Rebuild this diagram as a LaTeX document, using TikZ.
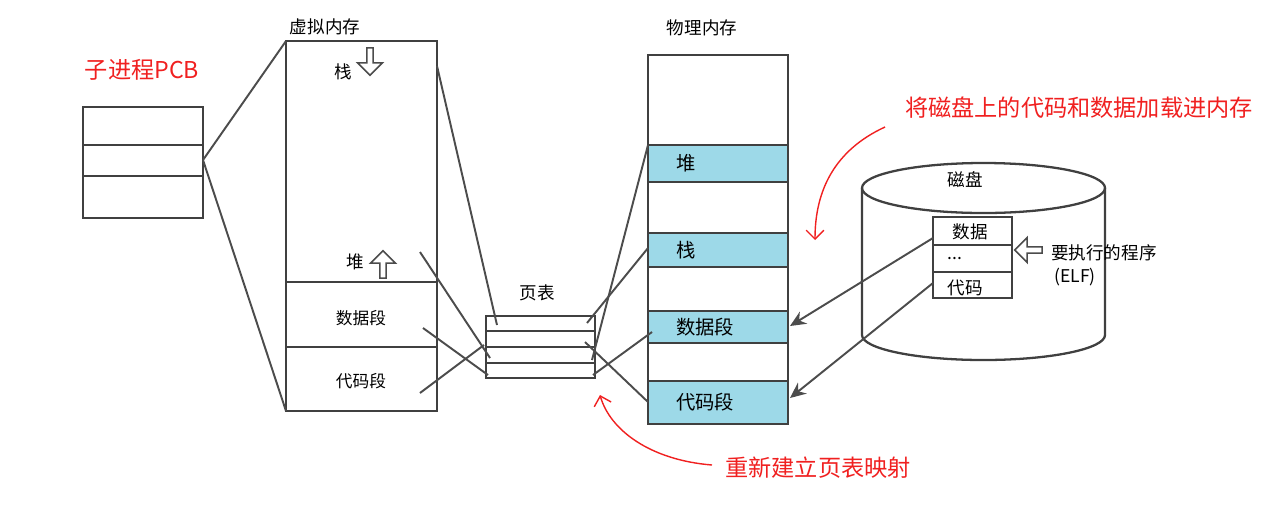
\documentclass[tikz,border=0pt]{standalone}
\usepackage{fontspec}
\newfontfamily\cjk{Noto Sans CJK SC}
\usetikzlibrary{shapes.geometric,shapes.arrows,arrows.meta}
\definecolor{segblue}{HTML}{9DD9E8}
\definecolor{notered}{HTML}{F02020}
\tikzset{
  frame/.style={draw=black!75, line width=1.3pt},
  link/.style={draw=black!70, line width=1.1pt},
  lbl/.style={font=\cjk\fontsize{10}{12}\selectfont},
  seglbl/.style={font=\cjk\fontsize{9.5}{12}\selectfont},
  physlbl/.style={font=\cjk\fontsize{11}{13}\selectfont},
  note/.style={font=\cjk\fontsize{13.2}{16}\selectfont, text=notered},
  hollow/.style={single arrow, draw=black!70, fill=white, line width=0.9pt, minimum height=5.5mm, minimum width=5mm, single arrow head extend=1mm, inner sep=0.5pt}
}
\begin{document}
\begin{tikzpicture}[x=0.02cm, y=-0.02cm]
\useasboundingbox (0,0) rectangle (1287,508);

% PCB
\draw[frame] (83,107) rectangle (203,218);
\draw[frame] (83,145) -- (203,145) (83,176) -- (203,176);
\node[note] (pcb) at (142,70) {子进程PCB};
\coordinate (pcbr) at (203,160);

% virtual memory
\draw[frame] (286,41) rectangle (437,411);
\draw[frame] (286,282) -- (437,282) (286,347) -- (437,347);
\coordinate (vtl) at (286,41);
\coordinate (vbl) at (286,411);
\node[lbl] (vtitle) at (325,27) {虚拟内存};
\node[lbl] (vstack) at (343,72) {栈};
\node[hollow, shape border rotate=270] (vdown) at (370,60) {};
\node[lbl] (vheap) at (355,262) {堆};
\node[hollow, shape border rotate=90] (vup) at (383,266) {};
\node[seglbl] (vdata) at (361,318) {数据段};
\node[seglbl] (vcode) at (361,381) {代码段};
\draw[link] (pcbr) -- (vtl) (pcbr) -- (vbl);

% page table
\draw[frame] (486,316) rectangle (595,378);
\foreach \y in {331,347,363} \draw[frame] (486,\y) -- (595,\y);
\node[lbl] (ptitle) at (537,293) {页表};

% physical memory
\draw[frame] (648,55) rectangle (788,424);
\foreach \ya/\yb/\t/\n in {145/182/堆/pheap, 233/267/栈/pstack, 311/343/数据段/pdata, 381/424/代码段/pcode} {
  \fill[segblue] (648,\ya) rectangle (788,\yb);
  \draw[frame] (648,\ya) -- (788,\ya) (648,\yb) -- (788,\yb);
  \node[physlbl, anchor=west] (\n) at (670,{(\ya+\yb)/2}) {\t};
}
\draw[frame] (648,55) rectangle (788,424);
\node[lbl] (mtitle) at (702,28) {物理内存};

% mappings
\draw[link] (437,66) -- (497,325);
\draw[link] (420,252) -- (490,358);
\draw[link] (423,328) -- (488,375);
\draw[link] (420,393) -- (484,345);
\draw[link] (648,248) -- (587,323);
\draw[link] (648,145) -- (592,360);
\draw[link] (652,332) -- (593,375);
\draw[link] (648,402) -- (585,342);

% disk
\draw[frame] (862,188) -- (862,335) arc[start angle=180, end angle=360, x radius=121.5, y radius=-25] -- (1105,188);
\draw[frame] (983.5,188) ellipse[x radius=121.5, y radius=25];
\node[lbl] (dtitle) at (965,180) {磁盘};
\draw[frame, fill=white] (933,217) rectangle (1012,298);
\draw[frame] (933,245) -- (1012,245) (933,272) -- (1012,272);
\node[lbl] (ddata) at (970,232) {数据};
\node[lbl] (ddots) at (955,258) {...};
\node[lbl] (dcode) at (965,288) {代码};
\node[hollow, shape border rotate=180] (elfarr) at (1030,250) {};
\node[lbl, anchor=west] (elf) at (1045,253) {要执行的程序};
\node[lbl] (elf2) at (1075,277) {(ELF)};
\draw[link, -{Stealth[length=9pt, width=8pt]}] (933,238) -- (790,326);
\draw[link, -{Stealth[length=9pt, width=8pt]}] (933,283) -- (790,398);

% notes
\node[note] (load) at (1079,108) {将磁盘上的代码和数据加载进内存};
\draw[notered, thick, -{Straight Barb[length=5pt]}] (885,127) .. controls (835,150) and (815,190) .. (815,240);
\node[note] (remap) at (818,468) {重新建立页表映射};
\draw[notered, thick, -{Straight Barb[length=5pt]}] (712,465) .. controls (650,460) and (610,430) .. (600,395);
\end{tikzpicture}
\end{document}
